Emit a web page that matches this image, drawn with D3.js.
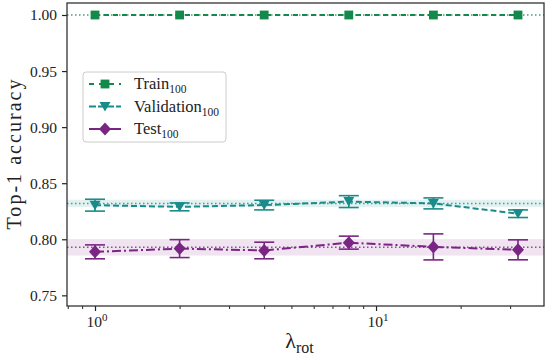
<!DOCTYPE html>
<html>
  <head>
    <meta charset="utf-8">
    <title></title>
  </head>
  <style>
    body { margin: 0; background: #fff; }
    svg { display: block; }
    svg text { font-family: "Liberation Serif", "DejaVu Serif", serif; }
  </style>
  <script src="https://d3js.org/d3.v7.min.js"></script>
  <body>
    <script>
    // lambda_rot values
    const lambdas = [1, 2, 4, 8, 16, 32]

    const trainAcc = [1.0, 1.0, 1.0, 1.0, 1.0, 1.0]
    const trainErr = [0, 0, 0, 0, 0, 0]
    const valAcc   = [0.8304, 0.8289, 0.8305, 0.8336, 0.8320, 0.8228]
    const valErr   = [0.0053, 0.0035, 0.0043, 0.0053, 0.0049, 0.0034]
    const testAcc  = [0.7888, 0.7917, 0.7900, 0.7970, 0.7932, 0.7906]
    const testErr  = [0.0062, 0.0080, 0.0074, 0.0058, 0.0116, 0.0089]

    // baseline (dotted line) and its std band
    const baseMean = [1.0, 0.8320, 0.7928]
    const baseStd  = [0.0, 0.0033, 0.0073]

    const seriesNames = ["Train", "Validation", "Test"]
    const yTicks = [0.75, 0.80, 0.85, 0.90, 0.95, 1.00]
    const xTicks = [1, 10]

    var W = 550, H = 359
    var margin = {left: 67, top: 3, right: 6, bottom: 53}
    var width = W - margin.left - margin.right
    var height = H - margin.top - margin.bottom

    var colors = ["#138a4b", "#198c8a", "#7a2584"]
    var dashes = ["5,4", "6,3", "9,3,2,3"]

    var svg = d3.select("body").append("svg")
      .attr("width", W).attr("height", H)

    var g = svg.append("g")
      .attr("transform", "translate(" + margin.left + "," + margin.top + ")")

    var xScale = d3.scaleLog().domain([0.795, 39.6]).range([0, width])
    var yScale = d3.scaleLinear().domain([0.7405, 1.0107]).range([height, 0])

    // baseline bands + dotted lines
    baseMean.forEach(function(m, i){
      if (baseStd[i] > 0) {
        g.append("rect")
          .attr("x", 0).attr("width", width)
          .attr("y", yScale(m + baseStd[i]))
          .attr("height", yScale(m - baseStd[i]) - yScale(m + baseStd[i]))
          .attr("fill", colors[i]).attr("opacity", 0.12)
      }
      g.append("line")
        .attr("x1", 0).attr("x2", width)
        .attr("y1", yScale(m)).attr("y2", yScale(m))
        .attr("stroke", colors[i]).attr("stroke-width", 1.5)
        .attr("stroke-dasharray", "1.5,2.5").attr("opacity", 0.8)
    })

    var all = [[trainAcc, trainErr], [valAcc, valErr], [testAcc, testErr]]

    var line = d3.line()
      .x(function(d){ return xScale(d[0]) })
      .y(function(d){ return yScale(d[1]) })

    function marker(sel, i){
      if (i == 0) return sel.append("path").attr("d", d3.symbol(d3.symbolSquare, 78)())
      if (i == 1) return sel.append("path").attr("d", "M-5.5,-4.5L5.5,-4.5L0,5Z")
      return sel.append("path").attr("d", "M0,-6.5L6,0L0,6.5L-6,0Z")
    }

    all.forEach(function(s, i){
      var pts = lambdas.map(function(l, j){ return [l, s[0][j], s[1][j]] })
      g.append("path")
        .datum(pts)
        .attr("d", line)
        .attr("fill", "none")
        .attr("stroke", colors[i])
        .attr("stroke-width", 2)
        .attr("stroke-dasharray", dashes[i])

      pts.forEach(function(p){
        var x = xScale(p[0])
        if (p[2] > 0) {
          var y1 = yScale(p[1] + p[2]), y2 = yScale(p[1] - p[2])
          var eb = g.append("g").attr("stroke", colors[i]).attr("stroke-width", 1.6)
          eb.append("line").attr("x1", x).attr("x2", x).attr("y1", y1).attr("y2", y2)
          eb.append("line").attr("x1", x - 10).attr("x2", x + 10).attr("y1", y1).attr("y2", y1)
          eb.append("line").attr("x1", x - 10).attr("x2", x + 10).attr("y1", y2).attr("y2", y2)
        }
        var m = g.append("g").attr("transform", "translate(" + x + "," + yScale(p[1]) + ")")
        marker(m, i).attr("fill", colors[i])
      })
    })

    // axes
    var yAxis = d3.axisLeft(yScale).tickValues(yTicks).tickFormat(d3.format(".2f")).tickSize(5).tickPadding(5)
    var gy = g.append("g").call(yAxis)
    gy.select(".domain").remove()
    gy.selectAll("line").attr("stroke", "#222").attr("stroke-width", 1.2)
    gy.selectAll("text").attr("font-size", "15.5px").attr("fill", "#222")

    var minor = []
    ;[0.1, 1, 10].forEach(function(dec){
      for (var k = 2; k <= 9; k++) {
        var v = dec * k
        if (v >= 0.795 && v <= 39.6) minor.push(v)
      }
    })
    var gxm = g.append("g").attr("transform", "translate(0," + height + ")")
      .call(d3.axisBottom(xScale).tickValues(minor).tickFormat("").tickSize(3))
    gxm.select(".domain").remove()
    gxm.selectAll("line").attr("stroke", "#222").attr("stroke-width", 1)

    var gx = g.append("g").attr("transform", "translate(0," + height + ")")
      .call(d3.axisBottom(xScale).tickValues(xTicks).tickFormat("").tickSize(5))
    gx.select(".domain").remove()
    gx.selectAll("line").attr("stroke", "#222").attr("stroke-width", 1.2)

    xTicks.forEach(function(t){
      var tx = g.append("text")
        .attr("x", xScale(t) + 2).attr("y", height + 21)
        .attr("text-anchor", "middle")
        .attr("font-size", "15.5px").attr("fill", "#222")
      tx.append("tspan").text("10")
      tx.append("tspan").attr("dy", -6).attr("font-size", "11px").text(Math.round(Math.log10(t)))
    })

    // frame
    g.append("rect").attr("width", width).attr("height", height)
      .attr("fill", "none").attr("stroke", "#333").attr("stroke-width", 1.3)

    // axis labels
    svg.append("text")
      .attr("transform", "translate(21," + (margin.top + height / 2) + ") rotate(-90)")
      .attr("text-anchor", "middle")
      .attr("font-size", "20px").attr("fill", "#222")
      .attr("textLength", 150).attr("lengthAdjust", "spacing")
      .text("Top-1 accuracy")

    var xl = svg.append("text")
      .attr("x", margin.left + width / 2 - 6).attr("y", 348)
      .attr("text-anchor", "middle").attr("fill", "#222")
      .attr("font-size", "22px")
    xl.append("tspan").text("λ")
    xl.append("tspan").attr("dy", 5).attr("font-size", "16px").text("rot")

    // legend
    var leg = svg.append("g").attr("transform", "translate(83,72)")
    leg.append("rect").attr("width", 143).attr("height", 70).attr("rx", 3)
      .attr("fill", "#fff").attr("fill-opacity", 0.8)
      .attr("stroke", "#ccc").attr("stroke-width", 1)
    var legDash = ["5,5", "7,2", null]
    seriesNames.forEach(function(n, i){
      var yy = 12 + i * 22.5
      var ln = leg.append("line").attr("x1", 6).attr("x2", 38).attr("y1", yy).attr("y2", yy)
        .attr("stroke", colors[i]).attr("stroke-width", 2)
      if (legDash[i]) ln.attr("stroke-dasharray", legDash[i])
      var mk = leg.append("g").attr("transform", "translate(22," + yy + ")")
      marker(mk, i).attr("fill", colors[i])
      var t = leg.append("text").attr("x", 51).attr("y", yy + 5)
        .attr("font-size", "16.5px").attr("fill", "#222")
      t.append("tspan").text(n)
      t.append("tspan").attr("dy", 4).attr("font-size", "11.5px").text("100")
    })
    </script>
  </body>
</html>
